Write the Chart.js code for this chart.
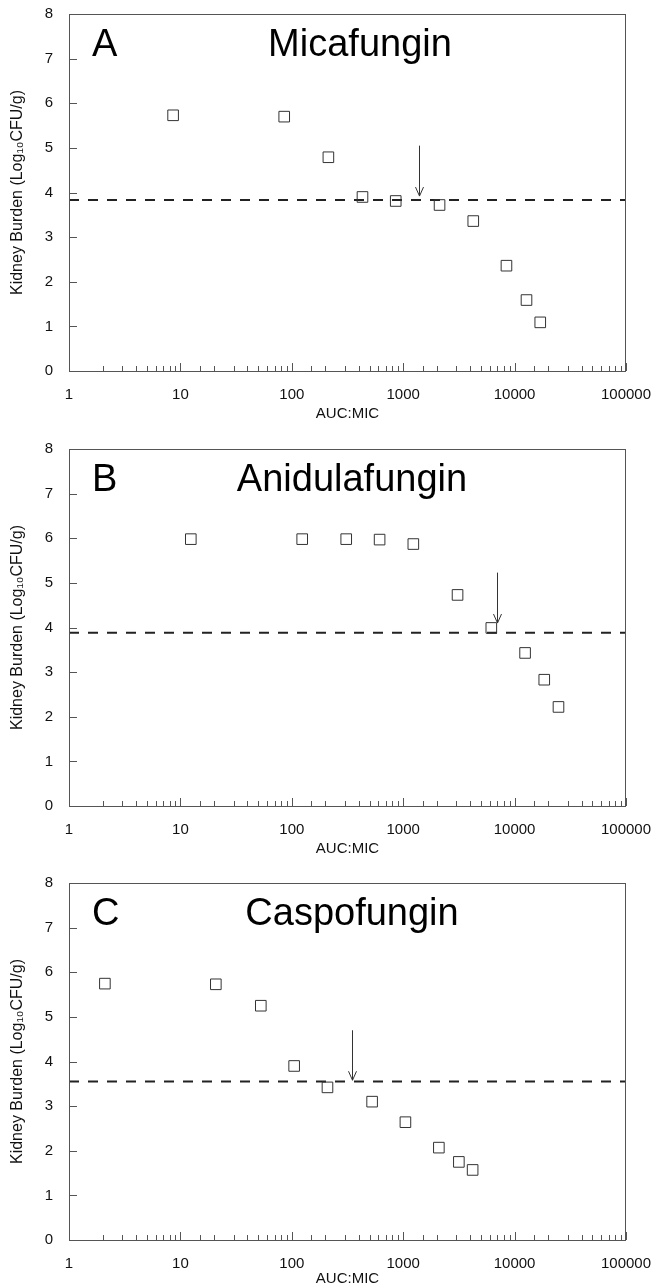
<!DOCTYPE html>
<html>
<head>
<meta charset="utf-8">
<script src="https://cdn.jsdelivr.net/npm/chart.js@4.4.0/dist/chart.umd.min.js"></script>
<style>
  html, body { margin: 0; padding: 0; background: #fff; overflow: hidden; }
  .panel { position: absolute; left: 0; width: 653px; height: 435px; }
</style>
</head>
<body>
<div class="panel" style="top:0px"><canvas id="chartA" width="653" height="435"></canvas></div>
<div class="panel" style="top:435px"><canvas id="chartB" width="653" height="435"></canvas></div>
<div class="panel" style="top:869px"><canvas id="chartC" width="653" height="435"></canvas></div>
<script>
// AUC:MIC values and kidney burden (log10 CFU/g)
var micaX = [8.6, 85.5, 213, 431, 857, 2120, 4255, 8450, 12790, 16990];
var micaY = [5.73, 5.70, 4.79, 3.90, 3.81, 3.72, 3.36, 2.36, 1.59, 1.09];
var micaCut = 3.83;
var micaArrow = [1400, 5.05, 3.92]; // x, top y, tip y

var aniX = [12.4, 124, 308, 614, 1233, 3075, 6180, 12420, 18460, 24770];
var aniY = [5.98, 5.98, 5.98, 5.97, 5.87, 4.73, 3.99, 3.43, 2.83, 2.22];
var aniCut = 3.88;
var aniArrow = [6920, 5.23, 4.10];

var caspX = [2.1, 20.8, 52.7, 105, 209, 526, 1047, 2090, 3160, 4200];
var caspY = [5.745, 5.73, 5.25, 3.90, 3.42, 3.10, 2.64, 2.07, 1.75, 1.57];
var caspCut = 3.55;
var caspArrow = [348, 4.70, 3.58];

var xRange = [1, 100000];
var yTicks = [0, 1, 2, 3, 4, 5, 6, 7, 8];

var FONT = '"Liberation Sans", Arial, Helvetica, sans-serif';

function toPoints(xs, ys) {
    return xs.map(function (x, i) { return { x: x, y: ys[i] }; });
}

// frame, inward ticks, arrow and panel labels
var panelDeco = {
    id: 'panelDeco',
    afterDatasetsDraw: function (chart, args, opts) {
        var ctx = chart.ctx;
        var a = chart.chartArea;
        var xs = chart.scales.x, ys = chart.scales.y;
        ctx.save();

        // box
        ctx.strokeStyle = '#555';
        ctx.lineWidth = 1;
        ctx.strokeRect(a.left + 0.5, a.top + 0.5, a.right - a.left - 1, a.bottom - a.top);

        // x ticks pointing up into the plot
        ctx.beginPath();
        xs.ticks.forEach(function (t) {
            var l = Math.log10(t.value);
            var major = Math.abs(l - Math.round(l)) < 1e-9;
            var px = Math.round(xs.getPixelForValue(t.value)) + 0.5;
            ctx.moveTo(px, a.bottom);
            ctx.lineTo(px, a.bottom - (major ? 8 : 5));
        });
        // y ticks pointing right
        ys.ticks.forEach(function (t) {
            var py = Math.round(ys.getPixelForValue(t.value)) + 0.5;
            ctx.moveTo(a.left, py);
            ctx.lineTo(a.left + 8, py);
        });
        ctx.stroke();

        // arrow
        var ar = opts.arrow;
        var ax = Math.round(xs.getPixelForValue(ar[0])) + 0.5;
        var ay0 = ys.getPixelForValue(ar[1]);
        var ay1 = ys.getPixelForValue(ar[2]);
        ctx.strokeStyle = '#333';
        ctx.beginPath();
        ctx.moveTo(ax, ay0);
        ctx.lineTo(ax, ay1);
        ctx.moveTo(ax - 4, ay1 - 9);
        ctx.lineTo(ax, ay1);
        ctx.lineTo(ax + 4, ay1 - 9);
        ctx.stroke();

        // panel letter and drug name
        ctx.fillStyle = '#000';
        ctx.font = '38px ' + FONT;
        ctx.textBaseline = 'alphabetic';
        ctx.textAlign = 'left';
        ctx.fillText(opts.letter, 92, 56);
        ctx.textAlign = 'center';
        ctx.fillText(opts.name, opts.nameX, 56);
        ctx.restore();
    }
};

function makeChart(id, xs, ys, cut, arrow, letter, name, nameX, xTitlePad) {
    var ctx = document.getElementById(id).getContext('2d');
    return new Chart(ctx, {
        type: 'scatter',
        data: {
            datasets: [{
                data: toPoints(xs, ys),
                pointStyle: 'rect',
                pointRadius: 7.5,
                pointHoverRadius: 7.5,
                pointBorderWidth: 1,
                borderColor: '#333',
                backgroundColor: 'rgba(0,0,0,0)'
            }, {
                type: 'line',
                data: [{ x: xRange[0], y: cut }, { x: xRange[1], y: cut }],
                borderColor: '#222',
                borderWidth: 2,
                borderDash: [10, 9],
                pointRadius: 0,
                fill: false
            }]
        },
        options: {
            responsive: false,
            animation: false,
            devicePixelRatio: 1,
            layout: { autoPadding: false, padding: { top: 14, right: 27, left: 0, bottom: 0 } },
            plugins: {
                legend: { display: false },
                tooltip: { enabled: false },
                panelDeco: { letter: letter, name: name, nameX: nameX, arrow: arrow }
            },
            scales: {
                x: {
                    type: 'logarithmic',
                    min: xRange[0],
                    max: xRange[1],
                    grid: { display: false },
                    border: { display: false },
                    afterFit: function (s) {
                        s.height = 64;
                        s.paddingLeft = 0;
                        s.paddingRight = 0;
                    },
                    ticks: {
                        autoSkip: false,
                        maxRotation: 0,
                        padding: 7,
                        color: '#111',
                        font: { family: FONT, size: 15 },
                        callback: function (v) {
                            var l = Math.log10(v);
                            return Math.abs(l - Math.round(l)) < 1e-9 ? String(v) : '';
                        }
                    },
                    title: {
                        display: true,
                        text: 'AUC:MIC',
                        color: '#111',
                        font: { family: FONT, size: 15 },
                        padding: { top: 0, bottom: xTitlePad }
                    }
                },
                y: {
                    min: yTicks[0],
                    max: yTicks[yTicks.length - 1],
                    grid: { display: false },
                    border: { display: false },
                    afterFit: function (s) {
                        s.width = 69;
                        s.paddingTop = 0;
                        s.paddingBottom = 0;
                    },
                    afterBuildTicks: function (s) {
                        s.ticks = yTicks.map(function (v) { return { value: v }; });
                    },
                    ticks: {
                        padding: 8,
                        color: '#111',
                        font: { family: FONT, size: 15 }
                    },
                    title: {
                        display: true,
                        text: 'Kidney Burden (Log\u2081\u2080CFU/g)',
                        color: '#111',
                        font: { family: FONT, size: 16 },
                        padding: { top: 8, bottom: 0 }
                    }
                }
            }
        },
        plugins: [panelDeco]
    });
}

makeChart('chartA', micaX, micaY, micaCut, micaArrow, 'A', 'Micafungin', 360, 12);
makeChart('chartB', aniX, aniY, aniCut, aniArrow, 'B', 'Anidulafungin', 352, 12);
makeChart('chartC', caspX, caspY, caspCut, caspArrow, 'C', 'Caspofungin', 352, 16);
</script>
</body>
</html>
